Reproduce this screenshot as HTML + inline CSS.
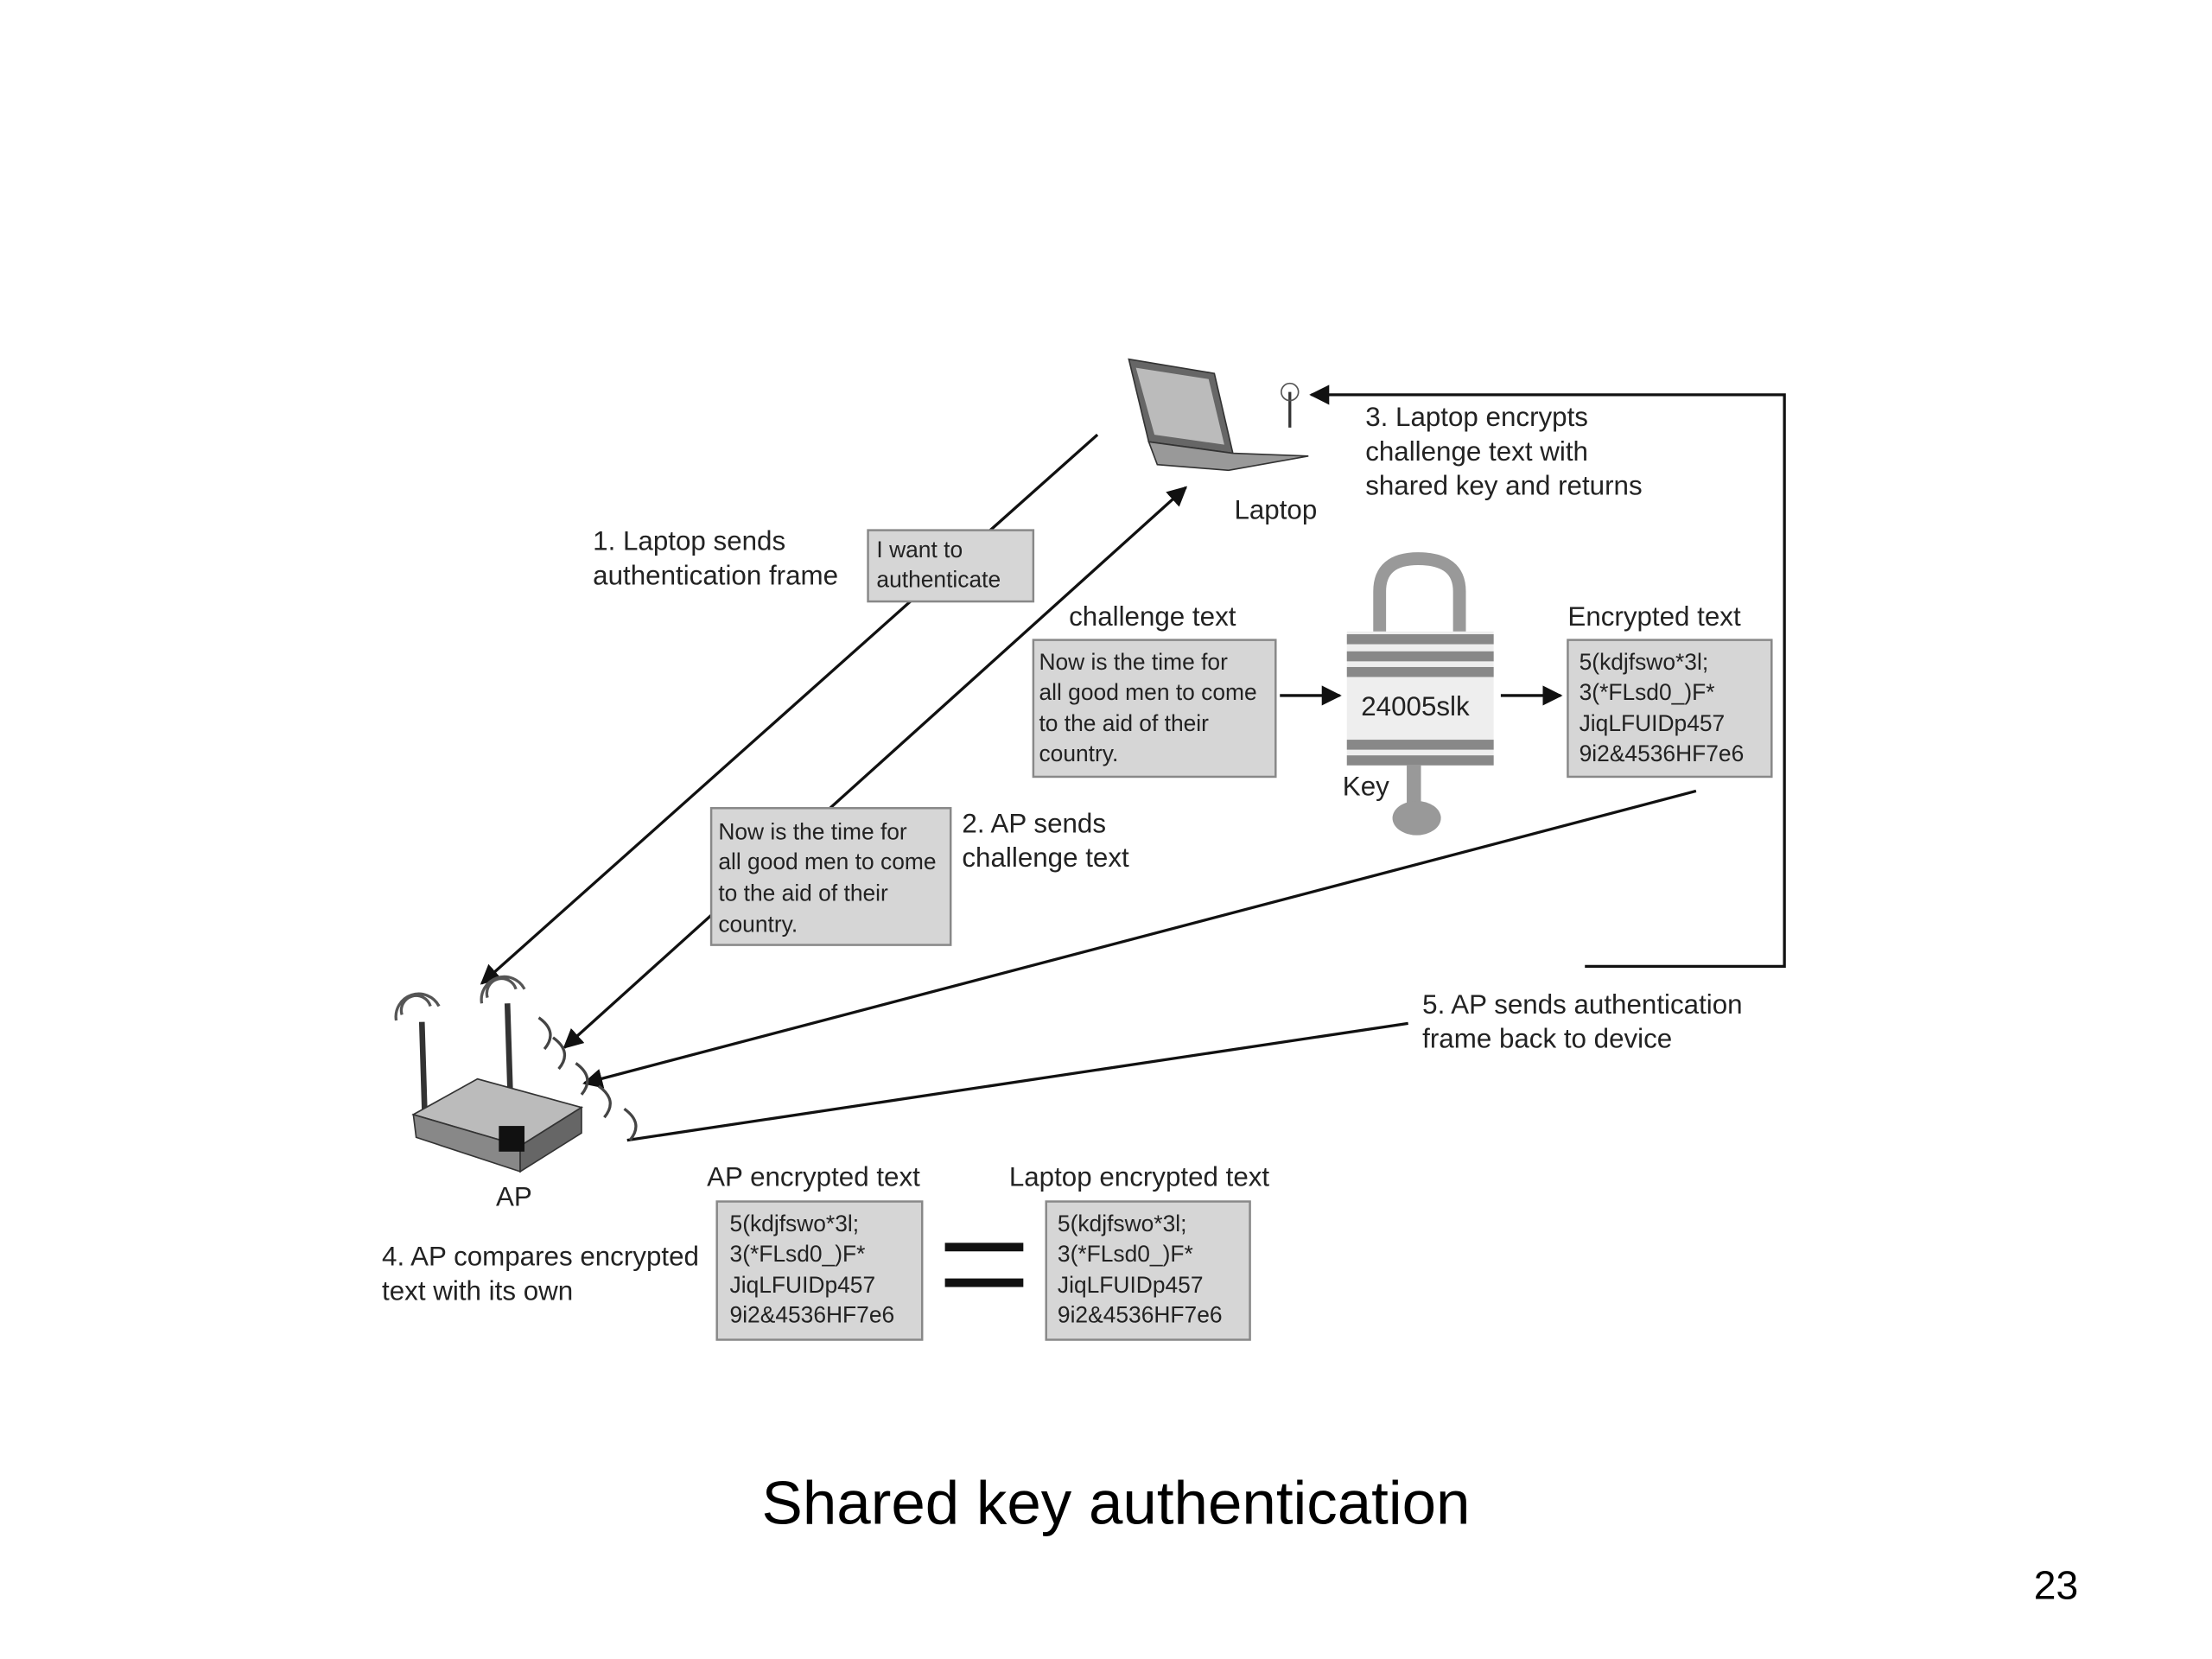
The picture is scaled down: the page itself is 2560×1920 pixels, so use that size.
<!DOCTYPE html>
<html><head><meta charset="utf-8"><style>
html,body{margin:0;padding:0;background:#fff;}
svg{display:block}
text{font-family:"Liberation Sans",sans-serif;fill:#222}
.lb{font-size:19px}
.bx{font-size:16px}
.box{fill:#d6d6d6;stroke:#888;stroke-width:1.5}
.ln{stroke:#111;stroke-width:2;fill:none}
</style></head><body>
<svg width="2560" height="1920" viewBox="0 0 1552 1164" xmlns="http://www.w3.org/2000/svg">
<defs>
<marker id="a" viewBox="0 0 10 10" refX="9" refY="5" markerWidth="7" markerHeight="7" orient="auto-start-reverse"><path d="M0,0L10,5L0,10z" fill="#111"/></marker>
</defs>
<rect width="1552" height="1164" fill="#fff"/>

<line class="ln" x1="770" y1="305" x2="338" y2="690" marker-end="url(#a)"/>
<line class="ln" x1="832" y1="342" x2="396" y2="735" marker-start="url(#a)" marker-end="url(#a)"/>
<line class="ln" x1="1190" y1="555" x2="410" y2="760" marker-end="url(#a)"/>
<line class="ln" x1="988" y1="718" x2="440" y2="800"/>
<polyline class="ln" points="1112,678 1252,678 1252,277 920,277" marker-end="url(#a)"/>
<line class="ln" x1="898" y1="488" x2="940" y2="488" marker-end="url(#a)"/>
<line class="ln" x1="1053" y1="488" x2="1095" y2="488" marker-end="url(#a)"/>

<polygon points="792,252 852,262 865,318 806,310" fill="#666" stroke="#333"/>
<polygon points="797,258 848,266 859,312 810,305" fill="#bbb"/>
<polygon points="806,310 865,318 918,320 862,330 812,326" fill="#999" stroke="#333"/>
<line x1="905" y1="275" x2="905" y2="300" stroke="#333" stroke-width="2"/>
<circle cx="905" cy="275" r="6" fill="none" stroke="#555"/>
<text class="lb" x="866" y="364">Laptop</text>

<text class="lb" x="958" y="299">3. Laptop encrypts</text>
<text class="lb" x="958" y="323">challenge text with</text>
<text class="lb" x="958" y="347">shared key and returns</text>

<text class="lb" x="416" y="386">1. Laptop sends</text>
<text class="lb" x="416" y="410">authentication frame</text>
<rect class="box" x="609" y="372" width="116" height="50"/>
<text class="bx" x="615" y="391">I want to</text>
<text class="bx" x="615" y="412">authenticate</text>

<text class="lb" x="750" y="439">challenge text</text>
<rect class="box" x="725" y="449" width="170" height="96"/>
<text class="bx" x="729" y="470">Now is the time for</text>
<text class="bx" x="729" y="491">all good men to come</text>
<text class="bx" x="729" y="513">to the aid of their</text>
<text class="bx" x="729" y="534">country.</text>

<path d="M968,445 V415 Q968,392 995,392 Q1024,392 1024,415 V445" fill="none" stroke="#999" stroke-width="9"/>
<rect x="945" y="443" width="103" height="94" fill="#eee"/>
<rect x="945" y="445" width="103" height="7" fill="#888"/>
<rect x="945" y="457" width="103" height="7" fill="#888"/>
<rect x="945" y="468" width="103" height="7" fill="#888"/>
<rect x="945" y="519" width="103" height="7" fill="#888"/>
<rect x="945" y="530" width="103" height="7" fill="#888"/>
<text x="955" y="502" style="font-size:19px">24005slk</text>
<rect x="987" y="537" width="10" height="30" fill="#999"/>
<ellipse cx="994" cy="574" rx="17" ry="12" fill="#999"/>
<text class="lb" x="942" y="558">Key</text>

<text class="lb" x="1100" y="439">Encrypted text</text>
<rect class="box" x="1100" y="449" width="143" height="96"/>
<text class="bx" x="1108" y="470">5(kdjfswo*3l;</text>
<text class="bx" x="1108" y="491">3(*FLsd0_)F*</text>
<text class="bx" x="1108" y="513">JiqLFUIDp457</text>
<text class="bx" x="1108" y="534">9i2&amp;4536HF7e6</text>

<rect class="box" x="499" y="567" width="168" height="96"/>
<text class="bx" x="504" y="589">Now is the time for</text>
<text class="bx" x="504" y="610">all good men to come</text>
<text class="bx" x="504" y="632">to the aid of their</text>
<text class="bx" x="504" y="654">country.</text>
<text class="lb" x="675" y="584">2. AP sends</text>
<text class="lb" x="675" y="608">challenge text</text>

<text class="lb" x="998" y="711">5. AP sends authentication</text>
<text class="lb" x="998" y="735">frame back to device</text>

<g transform="translate(0,-8)">
<line x1="296" y1="725" x2="298" y2="790" stroke="#333" stroke-width="4"/>
<line x1="356" y1="712" x2="358" y2="775" stroke="#333" stroke-width="4"/>
<path d="M282,720 a10,10 0 0 1 20,-6 M278,724 a16,16 0 0 1 30,-10" fill="none" stroke="#555" stroke-width="2"/>
<path d="M342,708 a10,10 0 0 1 20,-6 M338,712 a16,16 0 0 1 30,-10" fill="none" stroke="#555" stroke-width="2"/>
<polygon points="290,790 335,765 408,785 365,812" fill="#bbb" stroke="#333"/>
<polygon points="290,790 365,812 365,830 292,806" fill="#888" stroke="#333"/>
<polygon points="365,812 408,785 408,803 365,830" fill="#666" stroke="#333"/>
<rect x="350" y="798" width="18" height="18" fill="#111"/>
<path d="M378,722 q14,10 4,22 M388,736 q14,10 4,22 M404,754 q14,10 4,22 M420,770 q14,10 4,22 M438,786 q14,10 4,22" fill="none" stroke="#444" stroke-width="2"/>
</g>
<text class="lb" x="348" y="846">AP</text>

<text class="lb" x="268" y="888">4. AP compares encrypted</text>
<text class="lb" x="268" y="912">text with its own</text>

<text class="lb" x="496" y="832">AP encrypted text</text>
<rect class="box" x="503" y="843" width="144" height="97"/>
<text class="bx" x="512" y="864">5(kdjfswo*3l;</text>
<text class="bx" x="512" y="885">3(*FLsd0_)F*</text>
<text class="bx" x="512" y="907">JiqLFUIDp457</text>
<text class="bx" x="512" y="928">9i2&amp;4536HF7e6</text>

<rect x="663" y="872" width="55" height="6" fill="#111"/>
<rect x="663" y="897" width="55" height="6" fill="#111"/>

<text class="lb" x="708" y="832">Laptop encrypted text</text>
<rect class="box" x="734" y="843" width="143" height="97"/>
<text class="bx" x="742" y="864">5(kdjfswo*3l;</text>
<text class="bx" x="742" y="885">3(*FLsd0_)F*</text>
<text class="bx" x="742" y="907">JiqLFUIDp457</text>
<text class="bx" x="742" y="928">9i2&amp;4536HF7e6</text>

<text x="783" y="1069" text-anchor="middle" style="font-size:43px;fill:#000">Shared key authentication</text>
<text x="1427" y="1122" style="font-size:28px;fill:#000">23</text>
</svg>
</body></html>
